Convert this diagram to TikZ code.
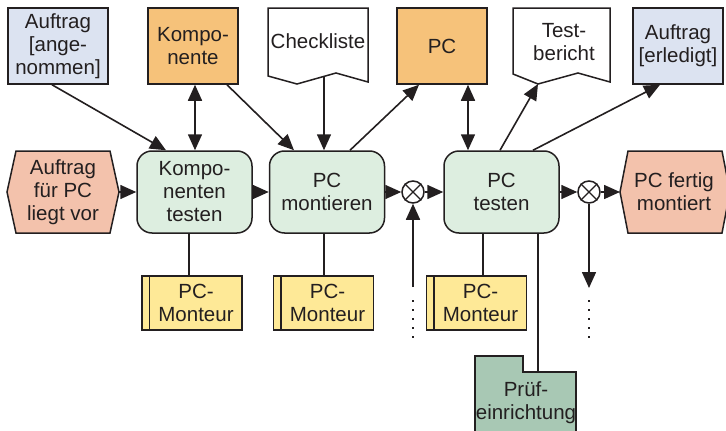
\documentclass[tikz,border=0pt]{standalone}
\usepackage{fontspec}
\setmainfont{Liberation Sans}
\usetikzlibrary{arrows.meta}

\definecolor{ink}{HTML}{231F20}
\definecolor{infoblue}{HTML}{DCE3F1}
\definecolor{objorange}{HTML}{F6C27A}
\definecolor{funcgreen}{HTML}{DDEEE0}
\definecolor{evsalmon}{HTML}{F3C2AC}
\definecolor{orgyellow}{HTML}{FEE997}
\definecolor{toolgreen}{HTML}{A8C8B4}

\tikzset{
  txt/.style={font=\fontsize{20.5}{23}\selectfont, text=ink, align=center, inner sep=0pt},
  outline/.style={draw=ink, line width=1.5pt, line join=miter},
  infobox/.style={txt, outline, fill=infoblue, minimum width=90pt, minimum height=76pt},
  objbox/.style={txt, outline, fill=objorange, minimum width=90pt, minimum height=76pt},
  funcbox/.style={txt, outline, fill=funcgreen, rounded corners=15pt, minimum width=115pt, minimum height=82pt},
  orgbox/.style={txt, outline, fill=orgyellow, minimum width=100pt, minimum height=54pt},
  xorcirc/.style={circle, outline, fill=white, minimum size=22pt, inner sep=0pt},
  tip/.style={Triangle[length=16pt,width=14pt]},
  flow/.style={draw=ink, line width=1.6pt, -{Triangle[length=16pt,width=14pt]}},
  biflow/.style={draw=ink, line width=1.6pt, {Triangle[length=16pt,width=14pt]}-{Triangle[length=16pt,width=14pt]}},
  link/.style={draw=ink, line width=1.6pt},
  dots/.style={draw=ink, line width=1.8pt, dash pattern=on 1.8pt off 7.2pt}
}

\begin{document}
\begin{tikzpicture}[x=1pt, y=-1pt]
\useasboundingbox (0,0) rectangle (726,431);
\clip (0,0) rectangle (726,431);

% --- top row: information and output objects
\node[infobox, minimum width=100pt] (auf1) at (58,46) {Auftrag\\{[}ange-\\nommen{]}};
\node[objbox] (komp) at (193,46) {Kompo-\\nente};

\draw[outline, fill=white] (268,8) -- (368,8) -- (368,82) -- (336,73) -- (297,84) -- (268,76) -- cycle;
\node[txt] (check) at (318,41) {Checkliste};
\coordinate (checkb) at (324,76);

\node[objbox] (pc) at (442,46) {PC};

\draw[outline, fill=white] (513,8) -- (610,8) -- (610,82) -- (578,73) -- (538,84) -- (513,74) -- cycle;
\node[txt] (bericht) at (564,42) {Test-\\bericht};
\coordinate (berichtb) at (538,84);

\node[infobox] (auf2) at (678,46) {Auftrag\\{[}erledigt{]}};

% --- middle row: events, functions, connectors
\draw[outline, fill=evsalmon] (7,192) -- (16,151) -- (110,151) -- (119,192) -- (110,233) -- (16,233) -- cycle;
\node[txt] (ev1) at (63,192) {Auftrag\\für PC\\liegt vor};
\coordinate (ev1r) at (119,192);

\node[funcbox] (f1) at (194.5,192) {Kompo-\\nenten\\testen};
\node[funcbox] (f2) at (327,192) {PC\\montieren};
\node[xorcirc] (x1) at (413,192) {};
\draw[link, line width=1.3pt] (x1.north west) -- (x1.south east) (x1.north east) -- (x1.south west);
\node[funcbox] (f3) at (501.5,192) {PC\\testen};
\node[xorcirc] (x2) at (589,192) {};
\draw[link, line width=1.3pt] (x2.north west) -- (x2.south east) (x2.north east) -- (x2.south west);

\draw[outline, fill=evsalmon] (620,192) -- (628,151) -- (722,151) -- (730,192) -- (722,233) -- (628,233) -- cycle;
\node[txt] (ev2) at (674,192) {PC fertig\\montiert};
\coordinate (ev2l) at (620,192);

% --- bottom row: organisational units and equipment
\node[orgbox] (m1) at (192,303) {\hspace*{8pt}PC-\\\hspace*{8pt}Monteur};
\draw[outline] ([xshift=8pt]m1.north west) -- ([xshift=8pt]m1.south west);
\node[orgbox] (m2) at (323.5,303) {\hspace*{8pt}PC-\\\hspace*{8pt}Monteur};
\draw[outline] ([xshift=8pt]m2.north west) -- ([xshift=8pt]m2.south west);
\node[orgbox] (m3) at (476.5,303) {\hspace*{8pt}PC-\\\hspace*{8pt}Monteur};
\draw[outline] ([xshift=8pt]m3.north west) -- ([xshift=8pt]m3.south west);

\draw[outline, fill=toolgreen] (475,356) -- (523,356) -- (523,372) -- (576,372) -- (576,440) -- (475,440) -- cycle;
\node[txt] (pruef) at (526,403) {Prüf-\\einrichtung};
\coordinate (pruefb) at (538,372);

% --- control flow
\draw[flow] (ev1r) -- (f1.west);
\draw[flow] (f1.east) -- (f2.west);
\draw[flow] (f2.east) -- (x1.west);
\draw[flow] (x1.east) -- (f3.west);
\draw[flow] (f3.east) -- (x2.west);
\draw[flow] (x2.east) -- (ev2l);

\coordinate (x1in) at (413,287);
\draw[flow] (x1in) -- (x1.south);
\draw[dots] (413,300) -- (413,340);
\coordinate (x2out) at (589,288);
\draw[flow] (x2.south) -- (x2out);
\draw[dots] (589,300) -- (589,340);

% --- data and object links
\draw[flow] ([xshift=-6pt]auf1.south) -- ([xshift=-28.5pt]f1.north);
\draw[biflow] ([xshift=2pt]komp.south) -- ([xshift=0.5pt]f1.north);
\draw[flow] ([xshift=34pt]komp.south) -- ([xshift=-33pt]f2.north);
\draw[flow] (checkb) -- (checkb |- f2.north);
\draw[flow] ([xshift=23pt]f2.north) -- ([xshift=-23pt]pc.south);
\draw[biflow] ([xshift=26pt]pc.south) -- ([xshift=26pt]pc.south |- f3.north);
\draw[flow] ([xshift=-1.5pt]f3.north) -- (berichtb);
\draw[flow] ([xshift=31.5pt]f3.north) -- ([xshift=-18pt]auf2.south);

% --- organisational assignments
\coordinate (v1) at (189,0);
\coordinate (v2) at (324,0);
\coordinate (v3) at (483,0);
\draw[link] (f1.south -| v1) -- (m1.north -| v1);
\draw[link] (f2.south -| v2) -- (m2.north -| v2);
\draw[link] (f3.south -| v3) -- (m3.north -| v3);
\draw[link] (f3.south -| pruefb) -- (pruefb);
\end{tikzpicture}
\end{document}
